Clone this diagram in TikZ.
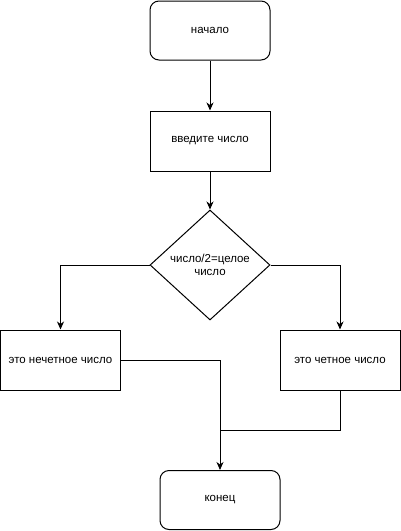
\documentclass[tikz,border=0pt]{standalone}
\usepackage{fontspec}
\setmainfont{Liberation Sans}
\usetikzlibrary{shapes.geometric,arrows.meta}
\begin{document}
\begin{tikzpicture}[x=1pt,y=-1pt,
  every node/.style={font=\fontsize{11.5}{13.5}\selectfont, inner sep=0pt, line width=1pt},
  term/.style={draw, rounded corners=9pt, minimum width=120pt, minimum height=59pt},
  proc/.style={draw, minimum width=120pt, minimum height=60pt},
  decide/.style={draw, diamond, aspect=1.09, minimum width=120pt, minimum height=110pt, align=center},
  flow/.style={line width=1pt, -{Stealth[length=8pt,width=7pt,inset=2.5pt]}},
  link/.style={line width=1pt}]
\useasboundingbox (0,0) rectangle (401,531);
\node[term] (start) at (210,30.5) {начало};
\node[proc] (input) at (210,141) {введите число};
\node[decide, text width=80pt] (check) at (210,265) {число/2=целое\\число};
\node[proc] (odd) at (60.5,360) {это нечетное число};
\node[proc] (even) at (340,360) {это четное число};
\node[term] (stop) at (220,500) {конец};
\coordinate (merge) at (220,430);
\draw[flow] (start) -- (input);
\draw[flow] (input) -- (check);
\draw[flow] (check.west) -| (odd.north);
\draw[flow] (check.east) -| (even.north);
\draw[flow] (odd.east) -| (stop.north);
\draw[link] (even.south) |- (merge);
\end{tikzpicture}
\end{document}
